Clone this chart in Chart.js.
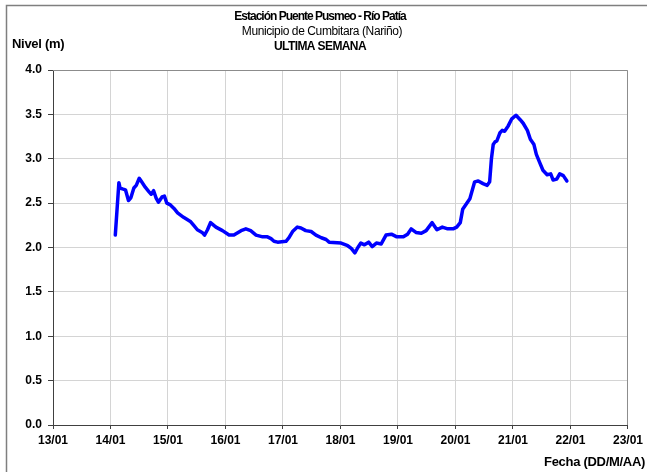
<!DOCTYPE html>
<html>
<head>
<meta charset="utf-8">
<script src="https://cdn.jsdelivr.net/npm/chart.js@4/dist/chart.umd.min.js"></script>
<style>
    html, body { margin: 0; padding: 0; background: #fff; }
    #wrap { width: 647px; height: 472px; }
</style>
</head>
<body>
<div id="wrap"><canvas id="nivel-chart" width="647" height="472"></canvas></div>
<script>
// Lecturas de nivel (fecha dd/mm hh:mm y nivel en metros)
const fechas = [
    "14/01 02:00", "14/01 03:30", "14/01 04:00", "14/01 05:00", "14/01 06:15", "14/01 07:30",
    "14/01 08:30", "14/01 09:45", "14/01 10:45", "14/01 12:00", "14/01 13:00", "14/01 14:30",
    "14/01 16:00", "14/01 17:00", "14/01 18:00", "14/01 19:00", "14/01 20:00", "14/01 21:30",
    "14/01 22:30", "14/01 23:30", "15/01 01:00", "15/01 02:30", "15/01 04:00", "15/01 06:30",
    "15/01 09:30", "15/01 10:45", "15/01 12:15", "15/01 14:15", "15/01 15:15", "15/01 16:30",
    "15/01 17:45", "15/01 20:00", "15/01 22:45", "16/01 01:30", "16/01 03:30", "16/01 06:30",
    "16/01 08:30", "16/01 10:30", "16/01 12:45", "16/01 15:30", "16/01 17:30", "16/01 19:00",
    "16/01 20:15", "16/01 21:45", "17/01 01:15", "17/01 02:30", "17/01 04:00", "17/01 06:00",
    "17/01 07:30", "17/01 09:30", "17/01 11:45", "17/01 13:45", "17/01 16:00", "17/01 18:00",
    "17/01 19:15", "18/01 00:15", "18/01 03:00", "18/01 04:30", "18/01 06:00", "18/01 07:15",
    "18/01 08:30", "18/01 10:00", "18/01 11:45", "18/01 13:15", "18/01 15:00", "18/01 17:00",
    "18/01 19:00", "18/01 21:15", "18/01 23:30", "19/01 02:15", "19/01 04:00", "19/01 05:30",
    "19/01 07:30", "19/01 09:45", "19/01 11:45", "19/01 14:15", "19/01 16:15", "19/01 18:30",
    "19/01 20:45", "19/01 23:00", "20/01 00:30", "20/01 02:00", "20/01 03:00", "20/01 04:30",
    "20/01 06:00", "20/01 08:00", "20/01 09:30", "20/01 11:30", "20/01 13:15", "20/01 14:15",
    "20/01 15:00", "20/01 15:45", "20/01 16:30", "20/01 17:15", "20/01 18:30", "20/01 19:30",
    "20/01 20:30", "20/01 22:00", "20/01 23:30", "21/01 01:15", "21/01 03:00", "21/01 04:15",
    "21/01 06:00", "21/01 07:15", "21/01 08:45", "21/01 09:45", "21/01 11:15", "21/01 12:30",
    "21/01 14:15", "21/01 15:45", "21/01 16:45", "21/01 18:15", "21/01 19:30", "21/01 21:00",
    "21/01 22:30"
];
const nivel = [
    2.14, 2.73, 2.67, 2.66, 2.65, 2.53,
    2.56, 2.67, 2.70, 2.78, 2.74, 2.68,
    2.63, 2.60, 2.64, 2.56, 2.51, 2.57,
    2.58, 2.50, 2.48, 2.44, 2.39, 2.34,
    2.29, 2.25, 2.20, 2.17, 2.14, 2.20,
    2.28, 2.23, 2.19, 2.14, 2.14, 2.19,
    2.21, 2.19, 2.14, 2.12, 2.12, 2.10,
    2.07, 2.06, 2.07, 2.11, 2.18, 2.23,
    2.22, 2.19, 2.18, 2.14, 2.11, 2.09,
    2.06, 2.05, 2.02, 1.99, 1.94, 2.00,
    2.05, 2.03, 2.06, 2.01, 2.05, 2.04,
    2.14, 2.15, 2.12, 2.12, 2.15, 2.21,
    2.17, 2.16, 2.19, 2.28, 2.20, 2.23,
    2.21, 2.21, 2.23, 2.28, 2.43, 2.49,
    2.55, 2.74, 2.75, 2.72, 2.70, 2.74,
    3.00, 3.16, 3.19, 3.20, 3.29, 3.32,
    3.31, 3.37, 3.45, 3.49, 3.44, 3.40,
    3.32, 3.22, 3.16, 3.05, 2.95, 2.87,
    2.82, 2.83, 2.76, 2.77, 2.83, 2.81,
    2.75
];

// Eje X: dias del mes (13 a 23 de enero)
const diaInicio = 13;
const diaFin = 23;
const nivelMax = 4.0;

const titulo = "Estación Puente Pusmeo - Río Patía";
const subtitulo = "Municipio de Cumbitara (Nariño)";
const periodo = "ULTIMA SEMANA";
const tituloY = "Nivel (m)";
const tituloX = "Fecha (DD/M/AA)";

const fuente = "'Liberation Sans', Arial, sans-serif";

// "dd/mm hh:mm" -> dia con fraccion
function aDia(f) {
    const [fecha, hora] = f.split(" ");
    const dia = parseInt(fecha.split("/")[0], 10);
    const [h, m] = hora.split(":").map(Number);
    return dia + h / 24 + m / 1440;
}

const puntos = fechas.map((f, i) => ({ x: aDia(f), y: nivel[i] }));

// Marco exterior, borde del area de grafico y textos
const decoracion = {
    id: "decoracion",
    beforeDraw(chart) {
        const c = chart.ctx;
        c.save();
        c.fillStyle = "#fff";
        c.fillRect(0, 0, chart.width, chart.height);
        c.restore();
    },
    afterDraw(chart) {
        const c = chart.ctx;
        const a = chart.chartArea;
        c.save();
        c.strokeStyle = "#7f7f7f";
        c.lineWidth = 1.5;
        c.strokeRect(6.5, 5.5, chart.width + 20, chart.height + 20);

        c.strokeStyle = "#8c8c8c";
        c.lineWidth = 1;
        c.beginPath();
        c.moveTo(a.left, a.top + 0.5);
        c.lineTo(a.right - 0.5, a.top + 0.5);
        c.lineTo(a.right - 0.5, a.bottom);
        c.stroke();

        c.fillStyle = "#000";
        c.textBaseline = "middle";
        c.textAlign = "center";
        c.font = "bold 12px " + fuente;
        c.letterSpacing = "-1px";
        c.fillText(titulo, 320, 17);
        c.font = "12px " + fuente;
        c.letterSpacing = "-0.4px";
        c.fillText(subtitulo, 322, 32);
        c.font = "bold 12px " + fuente;
        c.letterSpacing = "-0.6px";
        c.fillText(periodo, 320, 47);

        c.letterSpacing = "-0.3px";
        c.font = "bold 13px " + fuente;
        c.textAlign = "left";
        c.fillText(tituloY, 12, 44);
        c.textAlign = "right";
        c.fillText(tituloX, 645, 462);
        c.restore();
    }
};

const ctx = document.getElementById("nivel-chart").getContext("2d");
const chart = new Chart(ctx, {
    type: "line",
    data: {
        datasets: [{
            label: "Nivel",
            data: puntos,
            borderColor: "#0000ff",
            backgroundColor: "#0000ff",
            borderWidth: 3.5,
            pointRadius: 0,
            tension: 0,
            borderJoinStyle: "round",
            borderCapStyle: "round",
        }]
    },
    options: {
        responsive: false,
        animation: false,
        devicePixelRatio: 1,
        layout: { padding: { top: 70, right: 18, left: 0, bottom: 0 } },
        plugins: {
            legend: { display: false },
            tooltip: { enabled: false },
        },
        scales: {
            x: {
                type: "linear",
                min: diaInicio,
                max: diaFin,
                afterFit: (scale) => { scale.height = 47; },
                ticks: {
                    stepSize: 1,
                    padding: 4,
                    color: "#000",
                    font: { family: fuente, size: 12, weight: "bold" },
                    maxRotation: 0,
                    autoSkip: false,
                    callback: (v) => String(v).padStart(2, "0") + "/01",
                },
                grid: { color: "#d4d4d4", tickColor: "#404040", tickLength: 4 },
                border: { color: "#404040", width: 1 },
            },
            y: {
                min: 0,
                max: nivelMax,
                afterFit: (scale) => { scale.width = 53; },
                ticks: {
                    stepSize: 0.5,
                    padding: 6,
                    color: "#000",
                    font: { family: fuente, size: 12, weight: "bold" },
                    callback: (v) => v.toFixed(1),
                },
                grid: { color: "#d4d4d4", tickColor: "#404040", tickLength: 5 },
                border: { color: "#404040", width: 1 },
            },
        },
    },
    plugins: [decoracion],
});
</script>
</body>
</html>
